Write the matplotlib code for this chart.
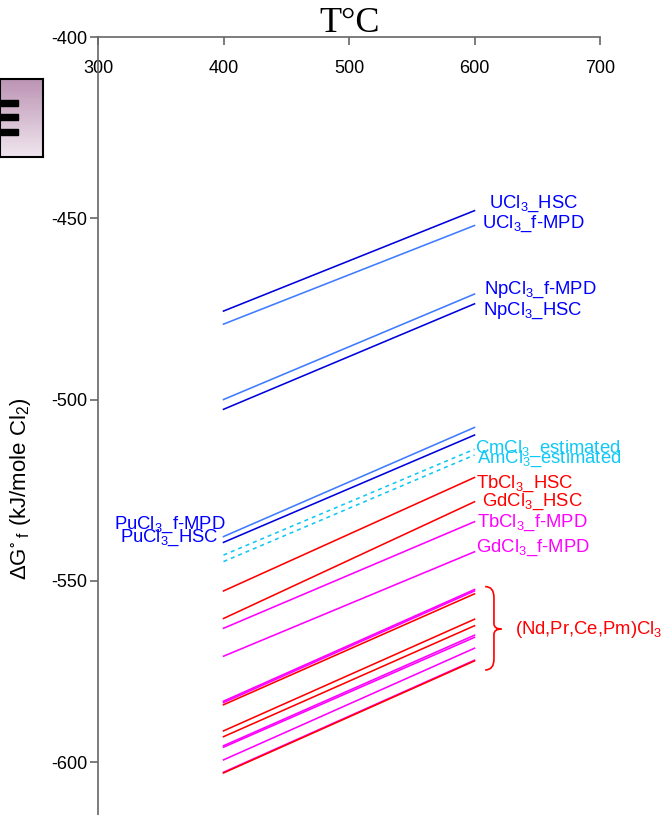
import numpy as np
import matplotlib.pyplot as plt
from matplotlib.path import Path
from matplotlib.patches import PathPatch, Rectangle
from matplotlib.colors import LinearSegmentedColormap

plt.rcParams['font.family'] = ['Liberation Sans', 'DejaVu Sans']
plt.rcParams['mathtext.fontset'] = 'custom'
plt.rcParams['mathtext.rm'] = 'Liberation Sans'
plt.rcParams['mathtext.it'] = 'Liberation Sans:italic'
plt.rcParams['mathtext.default'] = 'regular'
plt.rcParams['axes.unicode_minus'] = False

# Temperatures (deg C) at which each line is given
temps = [400, 600]

# dG_f values (kJ/mole Cl2) at 400 and 600 C
u_hsc = [-475.6, -447.9]
u_mpd = [-479.2, -452.0]
np_mpd = [-500.0, -470.9]
np_hsc = [-502.7, -473.6]
pu_mpd = [-537.8, -507.7]
pu_hsc = [-539.4, -509.8]
cm_est = [-542.9, -513.7]
am_est = [-544.7, -515.3]
tb_hsc = [-552.8, -521.5]
gd_hsc = [-560.4, -528.2]
tb_mpd = [-563.1, -533.7]
gd_mpd = [-570.8, -542.0]

# (Nd,Pr,Ce,Pm)Cl3 group
group_hsc = [[-584.2, -553.6], [-591.4, -560.6], [-593.0, -562.4], [-603.0, -572.1]]
group_mpd = [[-583.2, -552.4], [-583.6, -552.8], [-595.5, -565.0],
             [-595.9, -565.6], [-599.4, -568.6], [-602.8, -571.9]]

DARK = '#0000DD'
LIGHT = '#3F7BFF'
CYAN = '#10C8F5'
RED = '#FF0000'
MAG = '#FF00FF'
BLUE_TXT = '#0000FF'

fig = plt.figure(figsize=(6.63, 8.15), dpi=100)
ax = fig.add_axes([98 / 663, 0, 502 / 663, 778 / 815])
ax.set_xlim(300, 700)
ax.set_ylim(-614.6, -400)

lw = 1.15
ax.plot(temps, u_hsc, color=DARK, lw=lw)
ax.plot(temps, u_mpd, color=LIGHT, lw=lw)
ax.plot(temps, np_mpd, color=LIGHT, lw=lw)
ax.plot(temps, np_hsc, color=DARK, lw=lw)
ax.plot(temps, pu_mpd, color=LIGHT, lw=lw)
ax.plot(temps, pu_hsc, color=DARK, lw=lw)
ax.plot(temps, cm_est, color=CYAN, lw=lw, dashes=(2.5, 2.5))
ax.plot(temps, am_est, color=CYAN, lw=lw, dashes=(2.5, 2.5))
ax.plot(temps, tb_hsc, color=RED, lw=lw)
ax.plot(temps, gd_hsc, color=RED, lw=lw)
ax.plot(temps, tb_mpd, color=MAG, lw=lw)
ax.plot(temps, gd_mpd, color=MAG, lw=lw)
for v in group_mpd:
    ax.plot(temps, v, color=MAG, lw=lw)
for v in group_hsc:
    ax.plot(temps, v, color=RED, lw=lw)

fs = 13.3
ax.text(611.6, -446.1, 'UCl$_3$_HSC', color=BLUE_TXT, fontsize=fs, va='center')
ax.text(606, -451.6, 'UCl$_3$_f-MPD', color=BLUE_TXT, fontsize=fs, va='center')
ax.text(607.6, -469.8, 'NpCl$_3$_f-MPD', color=BLUE_TXT, fontsize=fs, va='center')
ax.text(606.8, -475.6, 'NpCl$_3$_HSC', color=BLUE_TXT, fontsize=fs, va='center')
ax.text(600.4, -513.7, 'CmCl$_3$_estimated', color=CYAN, fontsize=fs, va='center')
ax.text(602, -516.4, 'AmCl$_3$_estimated', color=CYAN, fontsize=fs, va='center')
ax.text(601.2, -523.3, 'TbCl$_3$_HSC', color=RED, fontsize=fs, va='center')
ax.text(606, -528.3, 'GdCl$_3$_HSC', color=RED, fontsize=fs, va='center')
ax.text(602, -534.1, 'TbCl$_3$_f-MPD', color=MAG, fontsize=fs, va='center')
ax.text(601.2, -541.0, 'GdCl$_3$_f-MPD', color=MAG, fontsize=fs, va='center')
ax.text(402, -534.6, 'PuCl$_3$_f-MPD', color=BLUE_TXT, fontsize=fs, va='center', ha='right')
ax.text(396.4, -538.2, 'PuCl$_3$_HSC', color=BLUE_TXT, fontsize=fs, va='center', ha='right')
ax.text(632.3, -563.3, '(Nd,Pr,Ce,Pm)Cl$_3$', color=RED, fontsize=fs, va='center',
        clip_on=False)

# curly brace next to the group
x0, xm, xt = 608.5, 615.5, 621.5
y0, ym, y1 = -551.6, -563.3, -574.6
verts = [(x0, y0), (xm, y0), (xm, y0 - 3), (xm, ym + 1.5), (xm, ym), (xt, ym),
         (xt, ym), (xm, ym), (xm, ym - 1.5), (xm, y1 + 3), (xm, y1), (x0, y1)]
codes = [Path.MOVETO, Path.CURVE3, Path.CURVE3, Path.LINETO, Path.CURVE3, Path.CURVE3,
         Path.MOVETO, Path.CURVE3, Path.CURVE3, Path.LINETO, Path.CURVE3, Path.CURVE3]
ax.add_patch(PathPatch(Path(verts, codes), fill=False, edgecolor=RED, lw=1.2,
                       clip_on=False))

# axes styling
for side in ['right', 'bottom']:
    ax.spines[side].set_visible(False)
for side in ['left', 'top']:
    ax.spines[side].set_color('#666666')
    ax.spines[side].set_linewidth(1.2)

ax.set_xticks([300, 400, 500, 600, 700])
ax.set_yticks([-400, -450, -500, -550, -600])
ax.xaxis.set_ticks_position('top')
ax.tick_params(axis='x', top=True, labeltop=True, bottom=False, labelbottom=False,
               direction='in', length=6, width=1.2, color='#666666',
               labelsize=13, pad=-29)
ax.tick_params(axis='y', direction='out', length=6, width=1.2, color='#666666',
               labelsize=13, pad=1.5)

fig.text(21 / 663, 1 - 489 / 815,
         r'$\Delta$G$^{\circ}$$_{\ f}$ (kJ/mole Cl$_2$)', fontsize=16,
         rotation=90, ha='center', va='center')

fig.text(350 / 663, 1 - 24 / 815, 'T°C', family='Liberation Serif', fontsize=26,
         ha='center', va='center')

# menu-style box at the left edge
bax = fig.add_axes([0, 1 - 157 / 815, 43 / 663, 78 / 815])
grad = np.linspace(0, 1, 100).reshape(-1, 1)
cm = LinearSegmentedColormap.from_list('g', ['#BC94B5', '#F0E6EE'])
bax.imshow(grad, aspect='auto', cmap=cm, extent=[0, 1, 0, 1], origin='upper')
for yc in [0.692, 0.513, 0.32]:
    bax.add_patch(Rectangle((0, yc - 0.035), 0.42, 0.07, color='black'))
bax.set_xlim(0, 1)
bax.set_ylim(0, 1)
bax.set_xticks([])
bax.set_yticks([])
for s in bax.spines.values():
    s.set_linewidth(1.5)
    s.set_color('black')

fig.savefig('out.png', dpi=100)
